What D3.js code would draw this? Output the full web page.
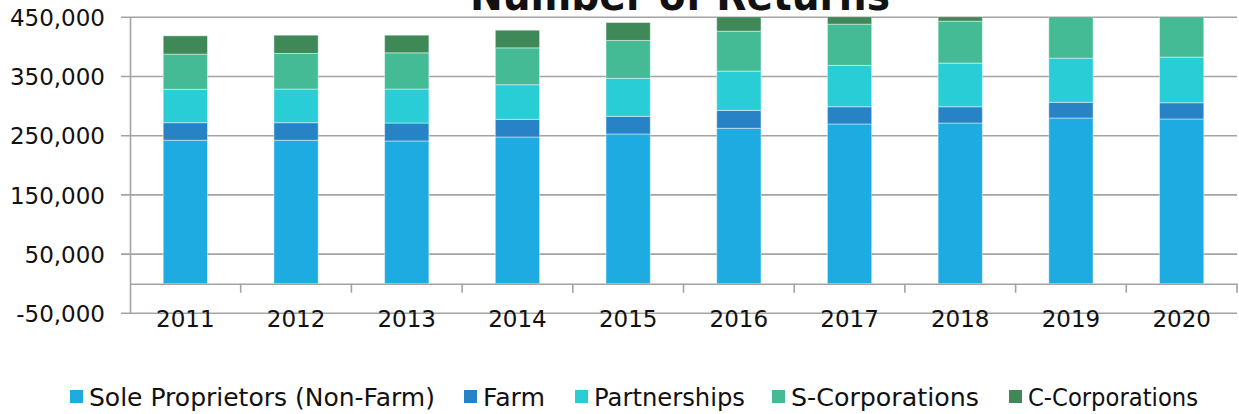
<!DOCTYPE html>
<html>
<head>
<meta charset="utf-8">
<script src="https://cdn.jsdelivr.net/npm/d3@7"></script>
<style>
  html, body { margin: 0; padding: 0; background: #fff; }
  svg { display: block; }
  text { font-family: "DejaVu Sans", sans-serif; fill: #111; }
</style>
</head>
<body>
<svg id="chart" width="1239" height="414"></svg>
<script>
const years = ["2011","2012","2013","2014","2015","2016","2017","2018","2019","2020"];
const seriesNames = ["Sole Proprietors (Non-Farm)", "Farm", "Partnerships", "S-Corporations", "C-Corporations"];
const seriesColors = ["#1eabe1", "#2882c6", "#28cdd6", "#44ba95", "#3e8957"];
const soleProprietors = [242300, 242300, 241100, 247800, 252900, 262500, 269800, 271400, 279900, 278200];
const farm            = [29700, 29700, 30300, 29900, 29800, 30300, 29100, 27500, 26500, 27500];
const partnerships    = [56300, 56800, 57400, 58400, 64100, 66300, 69800, 73700, 74600, 77000];
const sCorporations   = [59500, 60200, 61200, 62300, 64100, 67500, 69700, 70800, 73000, 75000];
const cCorporations   = [30900, 30800, 29800, 29800, 30300, 31000, 31000, 31000, 31000, 31000];
const yTickValues = [-50000, 50000, 150000, 250000, 350000, 450000];
const yDomain = [-50000, 450000];
const title = "Number of Returns";

const allSeries = [soleProprietors, farm, partnerships, sCorporations, cCorporations];
const rows = years.map((y, i) => {
  const r = { year: y };
  seriesNames.forEach((s, k) => r[s] = allSeries[k][i]);
  return r;
});
const stacked = d3.stack().keys(seriesNames)(rows);

const svg = d3.select("#chart");
const plot = { left: 130, right: 1237, top: 17.3, bottom: 313.3 };

const x = d3.scaleBand().domain(years).range([plot.left, plot.right]).paddingInner(0.6).paddingOuter(0.3);
const xb = d3.scaleBand().domain(years).range([plot.left, plot.right]);
const y = d3.scaleLinear().domain(yDomain).range([plot.bottom, plot.top]);

// gridlines
const grid = svg.append("g");
grid.selectAll("line").data(yTickValues).join("line")
  .attr("x1", plot.left - 9).attr("x2", plot.right)
  .attr("y1", d => y(d)).attr("y2", d => y(d))
  .attr("stroke", "#a3a3a3").attr("stroke-width", 1.6);

// y axis
const fmt = d3.format(",");
const yAxis = svg.append("g").attr("transform", `translate(${plot.left},0)`)
  .call(d3.axisLeft(y).tickValues(yTickValues).tickSize(0).tickPadding(25)
        .tickFormat(d => fmt(d).replace("\u2212", "-")));
yAxis.select(".domain").attr("stroke", "#a3a3a3").attr("stroke-width", 1.6);
yAxis.selectAll("text").style("font-size", "23px").attr("fill", "#111").attr("dy", "0.36em");

// clip
svg.append("clipPath").attr("id", "clip").append("rect")
  .attr("x", plot.left).attr("y", plot.top).attr("width", plot.right - plot.left).attr("height", plot.bottom - plot.top);

// bars
const barG = svg.append("g").attr("clip-path", "url(#clip)");
stacked.forEach((layer, k) => {
  barG.append("g").selectAll("rect").data(layer).join("rect")
    .attr("x", d => x(d.data.year))
    .attr("width", x.bandwidth())
    .attr("y", d => y(d[1]))
    .attr("height", d => y(d[0]) - y(d[1]))
    .attr("fill", seriesColors[k])
    .attr("stroke", "rgba(255,255,255,0.45)").attr("stroke-width", 1);
});

// x axis at zero
const xAxis = svg.append("g").attr("transform", `translate(0,${y(0)})`)
  .call(d3.axisBottom(xb).tickSize(0).tickFormat(""));
xAxis.select(".domain").attr("stroke", "#a3a3a3").attr("stroke-width", 1.6);
xAxis.selectAll(".tick").remove();
svg.append("g").selectAll("line").data(years.slice(1).concat(["end"])).join("line")
  .attr("x1", (d, i) => i < years.length - 1 ? xb(d) : plot.right)
  .attr("x2", (d, i) => i < years.length - 1 ? xb(d) : plot.right)
  .attr("y1", y(0)).attr("y2", y(0) + 9)
  .attr("stroke", "#a3a3a3").attr("stroke-width", 1.6);

svg.append("g").selectAll("text").data(years).join("text")
  .attr("x", d => x(d) + x.bandwidth() / 2)
  .attr("y", 327)
  .attr("text-anchor", "middle")
  .style("font-size", "23px")
  .text(d => d);

// title
svg.append("text")
  .attr("x", 680).attr("y", 10)
  .attr("text-anchor", "middle")
  .style("font-size", "42px").style("font-weight", "bold")
  .attr("textLength", 420).attr("lengthAdjust", "spacingAndGlyphs")
  .text(title);

// legend
const legendX = [70, 464, 575, 772, 1009];
const legendTextW = [346, 62, 151, 188, 170];
const legend = svg.append("g");
seriesNames.forEach((s, k) => {
  const g = legend.append("g").attr("transform", `translate(${legendX[k]},397)`);
  g.append("rect").attr("x", 0).attr("y", -7).attr("width", 13).attr("height", 13).attr("fill", seriesColors[k]);
  g.append("text").attr("x", 19).attr("y", 0).attr("dy", "0.36em").style("font-size", "24px")
    .attr("textLength", legendTextW[k]).attr("lengthAdjust", "spacingAndGlyphs").text(s);
});
</script>
</body>
</html>
